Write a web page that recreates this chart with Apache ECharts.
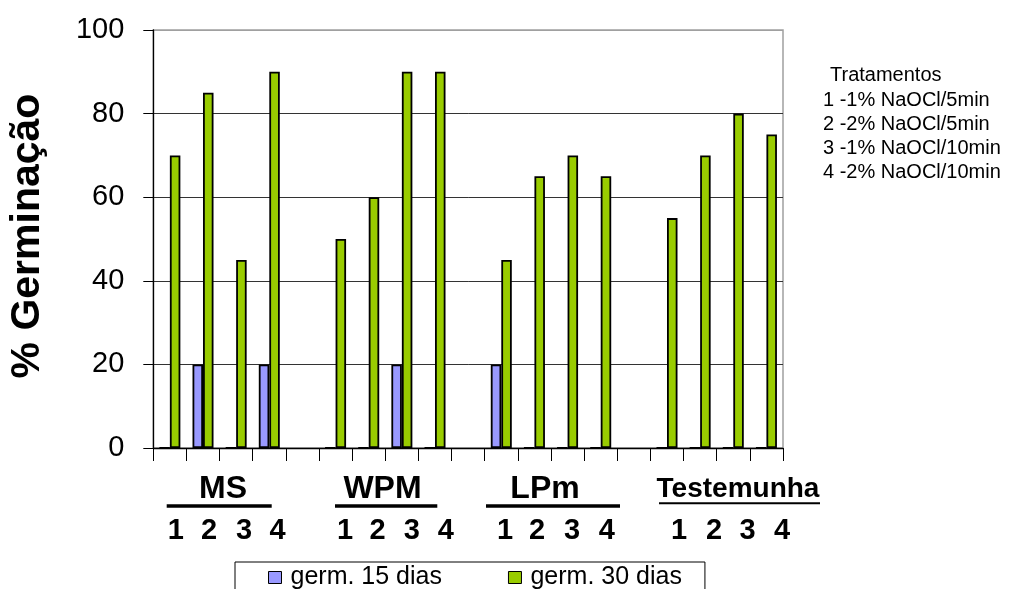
<!DOCTYPE html>
<html>
<head>
<meta charset="utf-8">
<script src="https://cdn.jsdelivr.net/npm/echarts@6/dist/echarts.min.js"></script>
<style>
html,body{margin:0;padding:0;background:#fff;}
#c{width:1018px;height:589px;}
</style>
</head>
<body>
<div id="c"></div>
<script>
// ---- data ----
const groups = ['MS', 'WPM', 'LPm', 'Testemunha'];
const treatments = ['1', '2', '3', '4'];
const categories = ['MS 1','MS 2','MS 3','MS 4','gap1',
                    'WPM 1','WPM 2','WPM 3','WPM 4','gap2',
                    'LPm 1','LPm 2','LPm 3','LPm 4','gap3',
                    'Testemunha 1','Testemunha 2','Testemunha 3','Testemunha 4'];
const germ15 = [0, 20, 0, 20, null, 0, 0, 20, 0, null, 20, 0, 0, 0, null, 0, 0, 0, 0];
const germ30 = [70, 85, 45, 90, null, 50, 60, 90, 90, null, 45, 65, 70, 65, null, 55, 70, 80, 75];
const yTicks = [0, 20, 40, 60, 80, 100];
const seriesNames = ['germ. 15 dias', 'germ. 30 dias'];
const treatmentNotes = ['1 -1% NaOCl/5min', '2 -2% NaOCl/5min', '3 -1% NaOCl/10min', '4 -2% NaOCl/10min'];

// ---- layout (pixel positions of annotation text) ----
const groupLabelX = [223, 382.5, 545, 738];
const groupUnderline = [[166.7, 271.7], [335, 437.3], [486, 620], [659, 820]];
const numberX = [[175.8, 209, 244, 277.5], [345, 377.5, 411.7, 445.8], [505, 537, 572, 606.7], [679, 714, 747.5, 782]];

const FONT = "'Liberation Sans', Arial, sans-serif";

const graphics = [];
// y axis title
graphics.push({
  type: 'text', x: 28, y: 236, rotation: Math.PI / 2,
  style: { text: '% Germinação', font: 'bold 41px ' + FONT, fill: '#000', align: 'center', verticalAlign: 'middle' }
});
groups.forEach((g, gi) => {
  const isTest = g === 'Testemunha';
  graphics.push({
    type: 'text', x: groupLabelX[gi], y: 489,
    style: { text: g, font: 'bold ' + (isTest ? 28 : 32) + 'px ' + FONT, fill: '#000', align: 'center', verticalAlign: 'middle' }
  });
  graphics.push({
    type: 'line',
    shape: { x1: groupUnderline[gi][0], y1: isTest ? 503.3 : 506, x2: groupUnderline[gi][1], y2: isTest ? 503.3 : 506 },
    style: { stroke: '#000', lineWidth: isTest ? 2 : 3.4 }
  });
  treatments.forEach((t, ti) => {
    graphics.push({
      type: 'text', x: numberX[gi][ti], y: 531,
      style: { text: t, font: 'bold 29px ' + FONT, fill: '#000', align: 'center', verticalAlign: 'middle' }
    });
  });
});
// treatments note
graphics.push({
  type: 'text', x: 830, y: 75,
  style: { text: 'Tratamentos', font: '20px ' + FONT, fill: '#000', align: 'left', verticalAlign: 'middle' }
});
treatmentNotes.forEach((t, i) => {
  graphics.push({
    type: 'text', x: 823, y: 100 + i * 24.3,
    style: { text: t, font: '20px ' + FONT, fill: '#000', align: 'left', verticalAlign: 'middle' }
  });
});

const chart = echarts.init(document.getElementById('c'), null, { renderer: 'canvas' });
chart.setOption({
  animation: false,
  backgroundColor: '#fff',
  grid: { left: 153.3, right: 235, top: 30, bottom: 141, show: true, borderColor: '#a0a0a0', borderWidth: 1.5, backgroundColor: 'transparent' },
  legend: {
    data: seriesNames,
    left: 235, top: 562,
    orient: 'horizontal',
    itemWidth: 13, itemHeight: 12, itemGap: 66,
    icon: 'rect',
    padding: [3, 23, 12, 33],
    borderColor: '#000', borderWidth: 1,
    itemStyle: { borderColor: '#000', borderWidth: 1 },
    textStyle: { fontFamily: FONT, fontSize: 25, color: '#000', padding: [0, 0, 0, 4] }
  },
  xAxis: {
    type: 'category',
    data: categories,
    axisLine: { lineStyle: { color: '#000', width: 1.3 } },
    axisTick: { show: true, interval: 0, length: 13, lineStyle: { color: '#000' } },
    axisLabel: { show: false, interval: 0 },
    splitLine: { show: false }
  },
  yAxis: {
    type: 'value', min: yTicks[0], max: yTicks[yTicks.length - 1], interval: 20,
    axisLine: { show: true, lineStyle: { color: '#000', width: 1.3 } },
    axisTick: { show: true, length: 10, lineStyle: { color: '#000' } },
    axisLabel: { fontFamily: FONT, fontSize: 29, color: '#000', margin: 29 },
    splitLine: { show: true, lineStyle: { color: ['#333', '#333', '#333', '#333', '#333', '#a0a0a0'], width: 1 } }
  },
  series: [
    {
      name: seriesNames[0], type: 'bar', data: germ15,
      barWidth: 10.5, barGap: '0%',
      itemStyle: { color: '#9999FF', borderColor: '#000', borderWidth: 1.8 }
    },
    {
      name: seriesNames[1], type: 'bar', data: germ30,
      barWidth: 10.5, barGap: '0%',
      itemStyle: { color: '#99CC00', borderColor: '#000', borderWidth: 1.8 }
    }
  ],
  graphic: graphics
});
</script>
</body>
</html>
